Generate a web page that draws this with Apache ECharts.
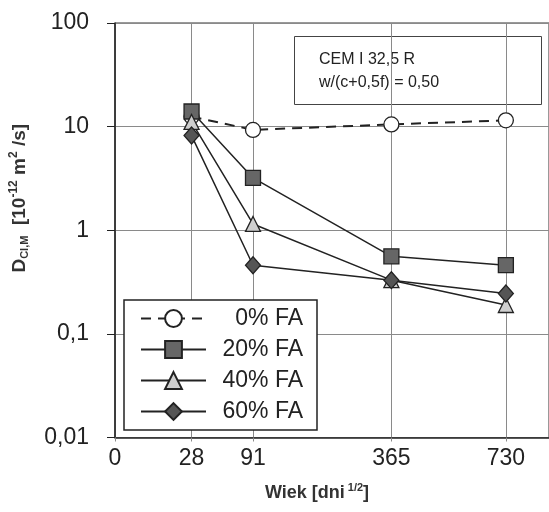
<!DOCTYPE html>
<html>
<head>
<meta charset="utf-8">
<script src="https://cdn.jsdelivr.net/npm/echarts@6/dist/echarts.min.js"></script>
<style>
  html, body { margin: 0; padding: 0; background: #fff; }
  #chart { width: 549px; height: 512px; }
</style>
</head>
<body>
<div id="chart"></div>
<script>
// wiek w dniach (oś x w skali pierwiastkowej)
const days = [28, 91, 365, 730]
const xTickDays = [0, 28, 91, 365, 730]
const yTicks = [0.01, 0.1, 1, 10, 100]

const seriesNames = ['0% FA', '20% FA', '40% FA', '60% FA']
const fa0 = [12.5, 9.3, 10.5, 11.5]
const fa20 = [14, 3.2, 0.56, 0.46]
const fa40 = [11.1, 1.15, 0.33, 0.19]
const fa60 = [8.2, 0.46, 0.33, 0.245]

const toPoints = vals => vals.map((v, i) => [Math.sqrt(days[i]), v])

const ink = '#222'
const gridGray = '#8a8a8a'

const myChart = echarts.init(document.getElementById('chart'))

const base = {
  type: 'line',
  lineStyle: { color: ink, width: 1.5 },
  itemStyle: { borderColor: ink, borderWidth: 1.3 },
  emphasis: { disabled: true }
}

const option = {
  animation: false,
  textStyle: { fontFamily: 'Liberation Sans, Arial, sans-serif', color: ink },
  grid: {
    left: 109,
    top: 23,
    right: -3,
    bottom: 74.5,
    containLabel: false,
    show: true,
    borderColor: '#333',
    borderWidth: 1
  },
  xAxis: {
    type: 'value',
    min: 0,
    max: 30,
    name: '{b|Wiek [dni}{sup| 1/2}{b|]}',
    nameLocation: 'middle',
    nameGap: 45,
    nameTextStyle: {
      padding: [0, 30, 0, 0],
      rich: {
        b: { fontSize: 18, fontWeight: 'bold', color: '#333' },
        sup: { fontSize: 11, fontWeight: 'bold', color: '#333', padding: [0, 0, 11, 0] }
      }
    },
    axisLine: { lineStyle: { color: ink, width: 1.5 } },
    axisTick: {
      customValues: xTickDays.map(Math.sqrt),
      length: 4,
      lineStyle: { color: gridGray }
    },
    axisLabel: {
      customValues: xTickDays.map(Math.sqrt),
      margin: 10,
      fontSize: 23,
      color: ink,
      formatter: v => String(Math.round(v * v))
    },
    splitLine: { show: true, lineStyle: { color: gridGray, width: 1 } }
  },
  yAxis: {
    type: 'log',
    logBase: 10,
    min: 0.01,
    max: 100,
    name: '{d|D}{sub|Cl,M}{d|  [10}{sup|-12}{d| m}{sup|2}{d| /s]}',
    nameLocation: 'middle',
    nameRotate: 90,
    nameGap: 84,
    nameTextStyle: {
      padding: [0, 0, 0, 64],
      rich: {
        d: { fontSize: 19, fontWeight: 'bold', color: '#333' },
        sub: { fontSize: 11, fontWeight: 'bold', color: '#333', padding: [10, 0, 0, 0] },
        sup: { fontSize: 12, fontWeight: 'bold', color: '#333', padding: [0, 0, 11, 0] }
      }
    },
    axisLine: { show: true, lineStyle: { color: ink, width: 1.5 } },
    axisTick: { length: 8, lineStyle: { color: ink } },
    axisLabel: {
      margin: 26,
      fontSize: 23,
      color: ink,
      formatter: v => String(v).replace('.', ',')
    },
    splitLine: { show: true, lineStyle: { color: gridGray, width: 1 } },
    minorTick: { show: false }
  },
  legend: {
    orient: 'vertical',
    left: 124,
    top: 300,
    padding: [7, 14, 7, 16],
    itemWidth: 65,
    itemHeight: 21,
    itemGap: 8,
    backgroundColor: '#fff',
    borderColor: ink,
    borderWidth: 1.5,
    data: seriesNames,
    formatter: name => '{r|' + name + '}',
    textStyle: {
      color: ink,
      rich: { r: { fontSize: 23, width: 92, align: 'right' } }
    }
  },
  graphic: [
    {
      type: 'group',
      z: 100,
      children: [
        {
          type: 'rect',
          shape: { x: 294.5, y: 36.5, width: 247, height: 68 },
          style: { fill: '#fff', stroke: '#444', lineWidth: 1 }
        },
        {
          type: 'text',
          x: 319,
          y: 60,
          style: { text: 'CEM I 32,5 R', fontSize: 16, fill: ink, verticalAlign: 'middle', fontFamily: 'Liberation Sans, Arial, sans-serif' }
        },
        {
          type: 'text',
          x: 319,
          y: 83,
          style: { text: 'w/(c+0,5f) = 0,50', fontSize: 16, fill: ink, verticalAlign: 'middle', fontFamily: 'Liberation Sans, Arial, sans-serif' }
        }
      ]
    }
  ],
  series: [
    Object.assign({}, base, {
      name: seriesNames[0],
      data: toPoints(fa0),
      symbol: 'circle',
      symbolSize: 15,
      lineStyle: { color: ink, width: 2, type: [10, 7] },
      itemStyle: { color: '#fff', borderColor: ink, borderWidth: 1.3 }
    }),
    Object.assign({}, base, {
      name: seriesNames[1],
      data: toPoints(fa20),
      symbol: 'rect',
      symbolSize: 15,
      itemStyle: { color: '#666', borderColor: ink, borderWidth: 1.3 }
    }),
    Object.assign({}, base, {
      name: seriesNames[2],
      data: toPoints(fa40),
      symbol: 'triangle',
      symbolSize: 15,
      itemStyle: { color: '#cfcfcf', borderColor: ink, borderWidth: 1.3 }
    }),
    Object.assign({}, base, {
      name: seriesNames[3],
      data: toPoints(fa60),
      symbol: 'diamond',
      symbolSize: [15, 17],
      itemStyle: { color: '#555', borderColor: ink, borderWidth: 1.3 }
    })
  ]
}

myChart.setOption(option)
window.addEventListener('resize', function () {
  myChart.resize()
})
</script>
</body>
</html>
